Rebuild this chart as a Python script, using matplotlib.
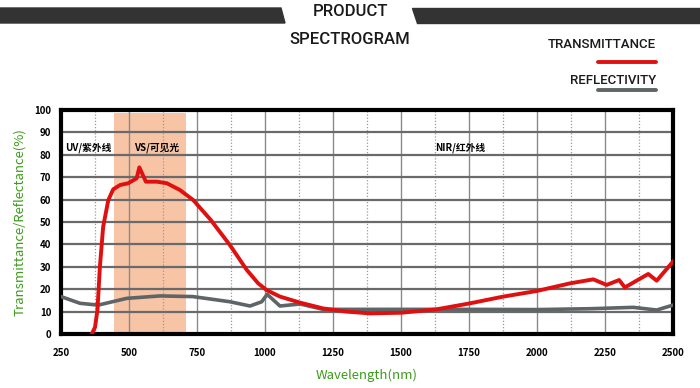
import matplotlib
matplotlib.use("Agg")
from matplotlib import pyplot as plt
from matplotlib.patches import Polygon
from matplotlib.lines import Line2D
from matplotlib.ticker import MultipleLocator

plt.rcParams["font.family"] = ["Noto Sans CJK SC", "DejaVu Sans"]

# transmittance curve (red)
trans_nm = [363, 375, 384, 393, 405, 424, 442, 467, 497, 528, 538, 562, 602, 639,
            687, 736, 800, 871, 933, 975, 1006, 1055, 1129, 1214, 1300, 1386,
            1502, 1630, 1754, 1876, 1999, 2121, 2207, 2256, 2302, 2323, 2409,
            2440, 2500]
trans_pct = [0, 3, 10.7, 30, 47.9, 59.8, 64.6, 66.5, 67.3, 69.5, 74.4, 68, 68, 67.3,
             64.3, 59.8, 51, 39.7, 28.6, 22.6, 19.6, 16.7, 14, 11.4, 10, 9.2,
             9.5, 11, 13.7, 16.7, 19.2, 22.6, 24.4, 21.9, 24.1, 20.8, 26.8,
             23.8, 32.3]

# reflectivity curve (gray)
refl_nm = [250, 320, 387, 491, 614, 735, 871, 945, 988, 1008, 1055, 1129, 1214,
           1312, 1500, 1750, 2000, 2200, 2354, 2440, 2500]
refl_pct = [16.7, 13.7, 12.9, 15.9, 17, 16.7, 14.4, 12.5, 14.4, 17.7, 12.5, 13.4,
            11, 11, 11, 11, 10.9, 11.3, 11.9, 10.7, 12.9]

visible_band = (445, 710)
region_labels = [("UV/紫外线", 265), ("VS/可见光", 520), ("NIR/红外线", 1625)]
x_ticks = [250, 500, 750, 1000, 1250, 1500, 1750, 2000, 2250, 2500]

green = "#3e9a1c"
red = "#e01010"
grey = "#5f6466"
head_font = ["Roboto", "DejaVu Sans"]

fig = plt.figure(figsize=(7, 3.88), dpi=100)
ax = fig.add_axes([61 / 700, 1 - 334 / 388, 612 / 700, 224 / 388])

ax.axvspan(*visible_band, ymin=0, ymax=0.985, color="#f7c4a6", lw=0, zorder=0)

ax.set_xlim(250, 2500)
ax.set_ylim(0, 100)
ax.xaxis.set_major_locator(MultipleLocator(250))
ax.xaxis.set_minor_locator(MultipleLocator(125))
ax.yaxis.set_major_locator(MultipleLocator(10))
ax.grid(which="major", axis="y", color="#6a6a6a", lw=1.6, zorder=1)
ax.grid(which="major", axis="x", color="#8a8a8a", lw=1.0, zorder=1)
ax.grid(which="minor", axis="x", color="#9a9a9a", lw=0.9, ls=(0, (1, 1.5)), zorder=1)

ax.plot(refl_nm, refl_pct, color=grey, lw=2.6, zorder=3, solid_joinstyle="round")
ax.plot(trans_nm, trans_pct, color=red, lw=2.8, zorder=4, solid_joinstyle="round")

for s in ax.spines.values():
    s.set_linewidth(3)
    s.set_color("black")
ax.tick_params(which="both", length=0)
ax.tick_params(axis="x", pad=10, labelsize=7)
ax.tick_params(axis="y", pad=7, labelsize=7)
ax.set_xticks(x_ticks)
for lab in ax.get_xticklabels() + ax.get_yticklabels():
    lab.set_fontweight("bold")

for txt, xpos in region_labels:
    ax.text(xpos, 83, txt, fontsize=7, fontweight="bold", va="center", ha="left")

ax.set_xlabel("Wavelength(nm)", color=green, fontsize=9.5, labelpad=8)
ax.set_ylabel("Transmittance/Reflectance(%)", color=green, fontsize=9.5, labelpad=6)

# header bar
left_bar = Polygon([(0, 8), (281, 8), (285, 23), (0, 23)], closed=True,
                   transform=None, color="#333333")
right_bar = Polygon([(412, 8), (700, 8), (700, 23), (417, 23)], closed=True,
                    transform=None, color="#333333")
for p in (left_bar, right_bar):
    p.set_xy([(x, 388 - y) for x, y in p.get_xy()])
    fig.patches.append(p)

fig.text(350 / 700, 1 - 11 / 388, "PRODUCT", ha="center", va="center",
         fontsize=12, color="#1a1a1a", family=head_font, fontweight="medium")
fig.text(350 / 700, 1 - 40 / 388, "SPECTROGRAM", ha="center", va="center",
         fontsize=12, color="#1a1a1a", family=head_font, fontweight="medium")
fig.text(656 / 700, 1 - 45 / 388, "TRANSMITTANCE", ha="right", va="center",
         fontsize=9.5, color="#1a1a1a", family=head_font, fontweight="medium")
fig.text(656 / 700, 1 - 80 / 388, "REFLECTIVITY", ha="right", va="center",
         fontsize=9.5, color="#1a1a1a", family=head_font, fontweight="medium")
fig.lines.append(Line2D([598 / 700, 656 / 700], [1 - 62 / 388, 1 - 62 / 388],
                        transform=fig.transFigure, color=red, lw=2.8,
                        solid_capstyle="round"))
fig.lines.append(Line2D([598 / 700, 656 / 700], [1 - 90 / 388, 1 - 90 / 388],
                        transform=fig.transFigure, color=grey, lw=2.8,
                        solid_capstyle="round"))

fig.savefig("out.png", dpi=100)
